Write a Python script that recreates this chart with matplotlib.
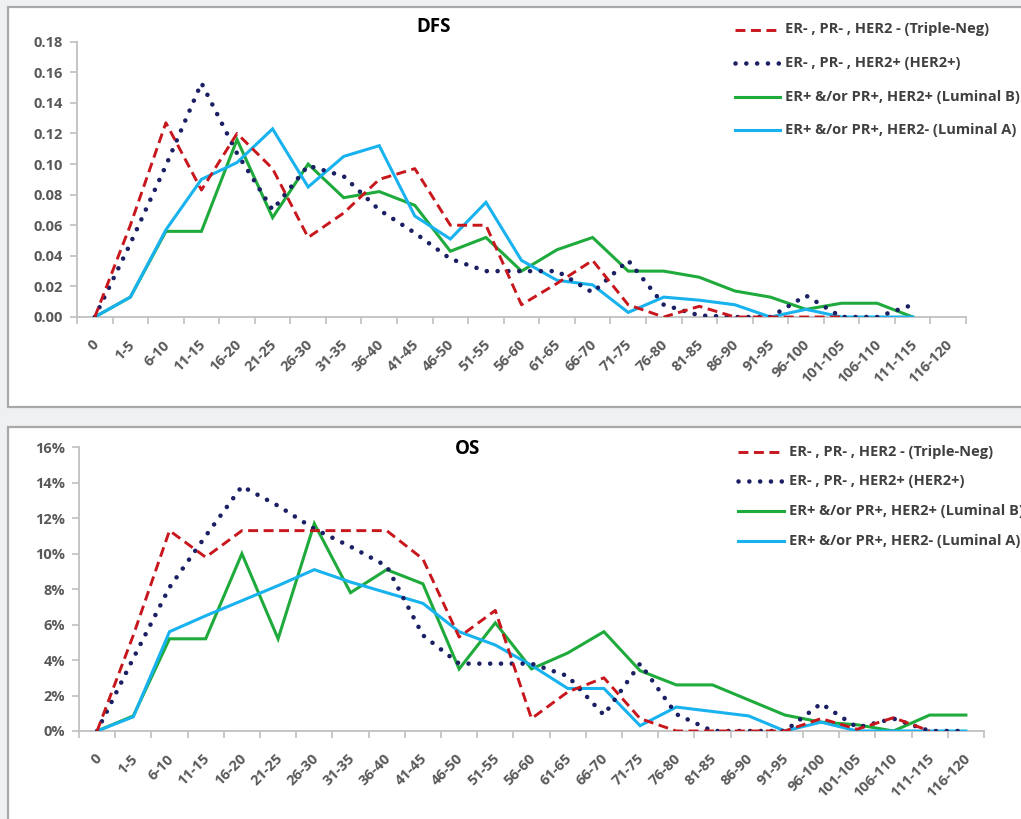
import matplotlib
matplotlib.use("Agg")
import matplotlib.pyplot as plt
from matplotlib.lines import Line2D
from matplotlib.patches import Rectangle
from matplotlib.ticker import FuncFormatter, FixedLocator
from matplotlib.transforms import ScaledTranslation

plt.rcParams['font.family'] = ['Open Sans', 'DejaVu Sans']

categories = ["0", "1-5", "6-10", "11-15", "16-20", "21-25", "26-30", "31-35",
              "36-40", "41-45", "46-50", "51-55", "56-60", "61-65", "66-70",
              "71-75", "76-80", "81-85", "86-90", "91-95", "96-100", "101-105",
              "106-110", "111-115", "116-120"]

series_labels = ["ER- , PR- , HER2 - (Triple-Neg)",
                 "ER- , PR- , HER2+ (HER2+)",
                 "ER+ &/or PR+, HER2+ (Luminal B)",
                 "ER+ &/or PR+, HER2- (Luminal A)"]

# Disease-free survival (fraction of patients per interval)
dfs_triple_neg = [0, 0.060, 0.127, 0.083, 0.120, 0.097, 0.052, 0.068, 0.090, 0.097,
                  0.060, 0.060, 0.008, 0.022, 0.037, 0.008, 0.0, 0.007, 0.0, 0.0,
                  0.0, 0.0]
dfs_her2 = [0, 0.048, 0.099, 0.153, 0.107, 0.070, 0.099, 0.092, 0.070, 0.055,
            0.038, 0.030, 0.030, 0.030, 0.016, 0.037, 0.008, 0.001, 0.0, 0.0,
            0.014, 0.0, 0.0, 0.008]
dfs_luminal_b = [0, 0.013, 0.056, 0.056, 0.116, 0.065, 0.100, 0.078, 0.082, 0.073,
                 0.043, 0.052, 0.030, 0.044, 0.052, 0.030, 0.030, 0.026, 0.017, 0.013,
                 0.005, 0.009, 0.009, 0.0]
dfs_luminal_a = [0, 0.013, 0.057, 0.090, 0.101, 0.123, 0.085, 0.105, 0.112, 0.066,
                 0.051, 0.075, 0.037, 0.024, 0.021, 0.003, 0.013, 0.011, 0.008, 0.0,
                 0.005, 0.0, 0.0, 0.0]

# Overall survival (percent of patients per interval)
os_triple_neg = [0, 5.4, 11.3, 9.8, 11.3, 11.3, 11.3, 11.3, 11.3, 9.7,
                 5.3, 6.8, 0.7, 2.2, 3.0, 0.7, 0, 0, 0, 0,
                 0.7, 0.1, 0.75, 0]
os_her2 = [0, 4.1, 8.1, 11.0, 13.8, 12.7, 11.4, 10.4, 9.3, 5.4,
           3.8, 3.8, 3.8, 3.1, 0.9, 3.8, 0.95, 0, 0, 0,
           1.55, 0.2, 0.7, 0, 0]
os_luminal_b = [0, 0.85, 5.2, 5.2, 10.0, 5.2, 11.7, 7.8, 9.1, 8.3,
                3.5, 6.1, 3.5, 4.4, 5.6, 3.4, 2.6, 2.6, 1.75, 0.9,
                0.5, 0.35, 0, 0.9, 0.9]
os_luminal_a = [0, 0.8, 5.6, 6.5, 7.35, 8.2, 9.1, 8.4, 7.8, 7.2,
                5.6, 4.85, 3.7, 2.4, 2.4, 0.3, 1.35, 1.1, 0.85, 0,
                0.5, 0, 0, 0, 0]

W, H = 1021, 819
fig = plt.figure(figsize=(W / 100, H / 100), dpi=100)
fig.patch.set_facecolor('#eef0f2')


def fx(x):
    return x / W


def fy(y):
    return 1 - y / H


# white chart boxes
for (x0, y0, x1, y1) in [(8, 7, 1040, 407), (8, 427, 1040, 840)]:
    fig.add_artist(Rectangle((fx(x0), fy(y1)), fx(x1 - x0), (y1 - y0) / H,
                             transform=fig.transFigure, facecolor='white',
                             edgecolor='#a8a8a8', linewidth=1.6, zorder=0))

styles = [
    dict(color='#c8161d', lw=2.1, linestyle=(0, (3.4, 1.9)), dash_capstyle='butt'),
    dict(color='#1b1f63', lw=3.3, linestyle=(0, (0.01, 2.35)), dash_capstyle='round'),
    dict(color='#1faa3c', lw=2.2, linestyle='-'),
    dict(color='#18b2ee', lw=2.2, linestyle='-'),
]

tick_col = '#c0c0c0'
lab_col = '#595959'
FS = 10.5


def make_panel(rect_px, data, ylim, yticks, fmt, title, title_xy, legend_px, legend_step):
    left, top, right, bottom = rect_px
    ax = fig.add_axes([fx(left), fy(bottom), fx(right - left), (bottom - top) / H])
    ax.patch.set_visible(False)
    x = list(range(len(categories)))
    # solid lines first, dashed and dotted lines on top
    for k in [2, 3, 1, 0]:
        vals = data[k]
        ln, = ax.plot(x[:len(vals)], vals, zorder=3 + (k in (0, 1)), **styles[k])
        ln.set_solid_joinstyle('miter')
    ax.set_xlim(-0.5, len(categories) - 0.5)
    ax.set_ylim(*ylim)
    for s in ['top', 'right']:
        ax.spines[s].set_visible(False)
    for s in ['left', 'bottom']:
        ax.spines[s].set_color(tick_col)
        ax.spines[s].set_linewidth(1.3)
    ax.spines['bottom'].set_zorder(2)

    ax.set_yticks(yticks)
    ax.yaxis.set_major_formatter(FuncFormatter(fmt))
    ax.tick_params(axis='y', colors=tick_col, length=5, width=1.2, pad=5,
                   labelcolor=lab_col, labelsize=FS)
    for t in ax.get_yticklabels():
        t.set_fontweight('bold')

    # boundary ticks on the category axis, labels at the category centers
    ax.xaxis.set_major_locator(FixedLocator([i - 0.5 for i in range(len(categories) + 1)]))
    ax.xaxis.set_major_formatter(FuncFormatter(lambda v, p: ''))
    ax.set_xticks(x, categories, minor=True)
    ax.tick_params(axis='x', which='major', colors=tick_col, length=5, width=1.2)
    ax.tick_params(axis='x', which='minor', length=0, pad=18.5,
                   labelcolor=lab_col, labelsize=FS)
    off = ScaledTranslation(2 / 100, 0, fig.dpi_scale_trans)
    for t in ax.get_xticklabels(minor=True):
        t.set_rotation(45)
        t.set_ha('right')
        t.set_va('center')
        t.set_rotation_mode('anchor')
        t.set_fontweight('bold')
        t.set_transform(t.get_transform() + off)

    fig.text(fx(title_xy[0]), fy(title_xy[1]), title, ha='center', va='center',
             fontsize=13.5, fontweight='bold', color='black')

    lx0, lx1, tx, ly0 = legend_px
    for k in range(4):
        yy = ly0 + k * legend_step
        fig.add_artist(Line2D([fx(lx0), fx(lx1)], [fy(yy), fy(yy)],
                              transform=fig.transFigure, **styles[k]))
        fig.text(fx(tx), fy(yy), series_labels[k], ha='left', va='center',
                 fontsize=FS, fontweight='bold', color='#404040')
    return ax


make_panel((77, 41.7, 966, 317),
           [dfs_triple_neg, dfs_her2, dfs_luminal_b, dfs_luminal_a],
           (0, 0.18), [i * 0.02 for i in range(10)],
           lambda v, p: f"{v:.2f}", "DFS", (434, 27),
           (735, 780, 785, 29.5), 33.5)

make_panel((79, 447.3, 984, 731),
           [os_triple_neg, os_her2, os_luminal_b, os_luminal_a],
           (0, 16), list(range(0, 17, 2)),
           lambda v, p: f"{v:.0f}%", "OS", (468, 449),
           (738, 784, 789, 451.5), 29.8)

fig.savefig("out.png", dpi=100, facecolor=fig.get_facecolor())
